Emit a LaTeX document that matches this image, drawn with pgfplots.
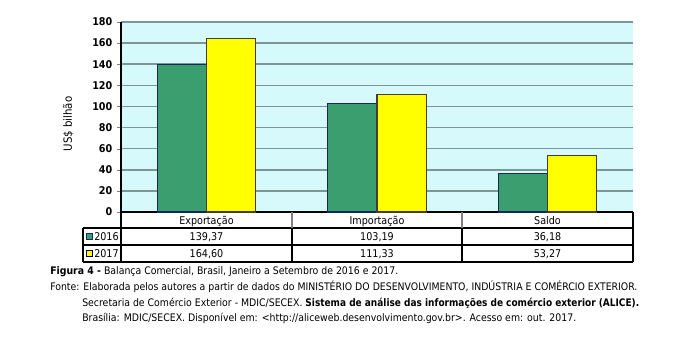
\documentclass[border=0pt]{standalone}
\usepackage{pgfplots}
\pgfplotsset{compat=1.18}
\usepackage{fontspec}
\setmainfont{DejaVu Sans Condensed}
\definecolor{bargreen}{RGB}{58,158,110}
\definecolor{baryellow}{RGB}{255,255,0}
\definecolor{bgc}{RGB}{214,250,252}
\definecolor{gridc}{RGB}{125,150,150}
\definecolor{outl}{RGB}{20,40,90}
\begin{document}
\begin{tikzpicture}
\path[use as bounding box] (0,0) rectangle (508.5pt,253.5pt);
\begin{axis}[
  at={(90.75pt,94.5pt)}, anchor=south west,
  scale only axis, width=384pt, height=142.5pt,
  xmin=-0.5, xmax=2.5, ymin=0, ymax=180,
  ytick={0,20,...,180}, xtick=\empty,
  axis x line*=bottom, axis y line*=left,
  axis line style={-, line width=0.8pt},
  tick align=outside, major tick length=3pt,
  ymajorgrids, grid style={gridc, line width=1.2pt},
  axis background/.style={fill=bgc},
  yticklabel style={font=\fontsize{8}{9}\selectfont\bfseries},
  /pgf/number format/assume math mode=true,
  ylabel={US\$ bilhão}, ylabel style={font=\fontsize{8.5}{10}\selectfont, at={(axis description cs:-0.103,0.463)}, anchor=center},
  ybar=0pt, bar width=0.288,
  clip=false,
]
\addplot[fill=bargreen, draw=outl, line width=0.8pt] coordinates {(0,139.37) (1,103.19) (2,36.18)};
\addplot[fill=baryellow, draw=black!70!olive, line width=0.8pt] coordinates {(0,164.60) (1,111.33) (2,53.27)};
\end{axis}
\begin{scope}[x=0.75pt,y=0.75pt]
% table
\begin{scope}[line width=0.9pt]
\draw (83,338-228) -- (633,338-228);
\draw (83,338-245) -- (633,338-245);
\draw (83,338-262) -- (633,338-262);
\draw (83,338-228) -- (83,338-262);
\draw (121,338-212) -- (121,338-262);
\draw (633,338-212) -- (633,338-262);
\draw[gray] (292,338-212) -- (292,338-228);
\draw[gray] (462,338-212) -- (462,338-228);
\draw[line width=1.4pt] (292,338-228) -- (292,338-262);
\draw[line width=1.4pt] (462,338-228) -- (462,338-262);
\end{scope}
\def\tf{\fontsize{8}{10}\selectfont}
\node[font=\tf] at (206.5,338-221) {Exportação};
\node[font=\tf] at (377,338-221) {Importação};
\node[font=\tf] at (547.5,338-221) {Saldo};
\node[font=\tf] at (206.5,338-237) {139,37};
\node[font=\tf] at (377,338-237) {103,19};
\node[font=\tf] at (547.5,338-237) {36,18};
\node[font=\tf] at (206.5,338-254) {164,60};
\node[font=\tf] at (377,338-254) {111,33};
\node[font=\tf] at (547.5,338-254) {53,27};
\draw[fill=bargreen, draw=outl, line width=0.6pt] (86,338-239.5) rectangle (92,338-233.5);
\draw[fill=baryellow, draw=black, line width=0.6pt] (86,338-256.5) rectangle (92,338-250.5);
\node[font=\tf, anchor=west, inner sep=0pt] at (94,338-237) {2016};
\node[font=\tf, anchor=west, inner sep=0pt] at (94,338-254) {2017};
% caption
\def\cf{\fontsize{7.8}{9}\selectfont}
\node[font=\cf, anchor=base west, inner sep=0pt] at (50,338-275) {\textbf{Figura 4 -} Balança Comercial, Brasil, Janeiro a Setembro de 2016 e 2017.};
\node[font=\cf, anchor=base west, inner sep=0pt] at (50,338-291) {Fonte: Elaborada pelos autores a partir de dados do MINISTÉRIO DO DESENVOLVIMENTO, INDÚSTRIA E COMÉRCIO EXTERIOR.};
\node[font=\cf, anchor=base west, inner sep=0pt] at (82,338-307) {Secretaria de Comércio Exterior - MDIC/SECEX. \scalebox{0.96}[1]{\textbf{Sistema de análise das informações de comércio exterior (ALICE).}}};
\node[font=\cf, anchor=base west, inner sep=0pt] at (82,338-322) {Brasília: MDIC/SECEX. Disponível em: <http://aliceweb.desenvolvimento.gov.br>. Acesso em: out. 2017.};
\end{scope}
\end{tikzpicture}
\end{document}
